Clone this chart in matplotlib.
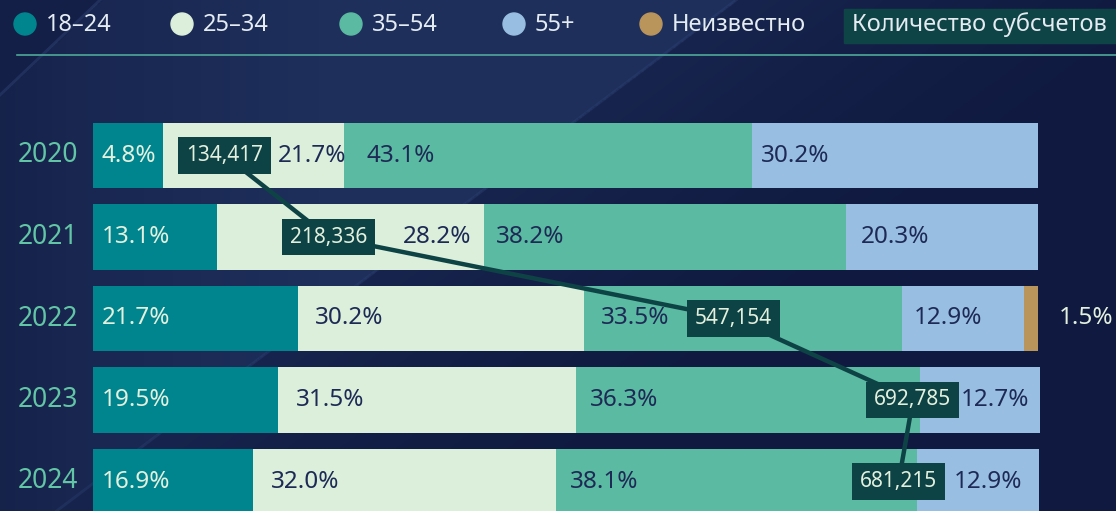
import matplotlib.pyplot as plt
import numpy as np
from matplotlib.colors import LinearSegmentedColormap
from matplotlib.patches import Circle, Rectangle

plt.rcParams["font.family"] = ["Noto Sans", "DejaVu Sans"]

# данные
years = ["2020", "2021", "2022", "2023", "2024"]
groups = ["18–24", "25–34", "35–54", "55+", "Неизвестно"]
share_18_24 = [7.4, 13.1, 21.7, 19.5, 16.9]
share_25_34 = [19.1, 28.2, 30.2, 31.5, 32.0]
share_35_54 = [43.1, 38.2, 33.5, 36.3, 38.1]
share_55 = [30.2, 20.3, 12.9, 12.7, 12.9]
share_unknown = [0.0, 0.0, 1.5, 0.0, 0.0]
# подписи как на исходной картинке
pct_labels = [
    ["4.8%", "21.7%", "43.1%", "30.2%", ""],
    ["13.1%", "28.2%", "38.2%", "20.3%", ""],
    ["21.7%", "30.2%", "33.5%", "12.9%", "1.5%"],
    ["19.5%", "31.5%", "36.3%", "12.7%", ""],
    ["16.9%", "32.0%", "38.1%", "12.9%", ""],
]
subaccounts = [134417, 218336, 547154, 692785, 681215]

colors = ["#00858f", "#dcefdb", "#5bbaa2", "#98bfe2", "#b9955c"]
text_dark = "#1e2a55"
text_light = "#e3f0de"
box_color = "#0e4346"

W, H = 1116, 511
fig = plt.figure(figsize=(W / 100, H / 100), dpi=100)

# фон: светлее слева от диагонали, темнее справа
bg = fig.add_axes([0, 0, 1, 1])
xx, yy = np.meshgrid(np.linspace(0, W, 560), np.linspace(0, H, 256))
x_line = 663 - 1.33 * (yy - 55)
dist = xx - x_line
left_side = np.interp(xx, [0, 60, 320], [0.3, 0.45, 0.78])
right_side = np.interp(dist, [0, 150, 450], [0.38, 0.22, 0.02])
shade = np.where(dist < 0, left_side, right_side)
corner = (xx + yy * 1.05) < 100
shade = np.where(corner, 0.2, shade)
cmap_bg = LinearSegmentedColormap.from_list("bg", ["#101a40", "#223563"])
bg.imshow(shade, cmap=cmap_bg, vmin=0, vmax=1, aspect="auto", extent=[0, W, H, 0])
bg.plot([0, 100], [95, 0], color="#3a5288", lw=2, alpha=0.35)
ys = np.array([0, H])
bg.plot(663 - 1.33 * (ys - 55), ys, color="#33497e", lw=2, alpha=0.3)
bg.set_xlim(0, W)
bg.set_ylim(H, 0)
bg.axis("off")

# легенда
legend_x = [25, 182, 351, 514, 651]
for gx, name, col in zip(legend_x, groups, colors):
    bg.add_patch(Circle((gx, 24), 11, color=col))
    bg.text(gx + 21, 25, name, color="#e4ecf2", fontsize=17, va="center", ha="left")
bg.add_patch(Rectangle((844, 9), 280, 34, color="#0f4447"))
bg.text(852, 25, "Количество субсчетов", color="#e4ecf2", fontsize=17, va="center", ha="left")
bg.plot([17, W], [55, 55], color="#4fa89a", lw=1.2)

# основная область
top_px = 155.5 - 0.5 * 81.5
ax = fig.add_axes([93 / W, 0, 947 / W, (H - top_px) / H])
ax.set_xlim(0, 100)
ax.set_ylim((H - 155.5) / 81.5, -0.5)
ax.axis("off")

series = [share_18_24, share_25_34, share_35_54, share_55, share_unknown]
y = np.arange(len(years))
left = np.zeros(len(years))
starts = []
for vals, col in zip(series, colors):
    ax.barh(y, vals, left=left, height=0.8, color=col, linewidth=0)
    starts.append(left.copy())
    left = left + np.array(vals)

for i, yr in enumerate(years):
    ax.annotate(yr, (0, i), xytext=(-75, 0), textcoords="offset pixels",
                color="#62c6a6", fontsize=19, va="center", ha="left")

# сдвиги подписей (пиксели от начала сегмента)
nudge = {(0, 1): 115, (0, 2): 23, (1, 1): 186, (1, 2): 12, (1, 3): 15,
         (2, 1): 16, (2, 2): 16, (2, 3): 12, (2, 4): 35,
         (3, 1): 18, (3, 2): 14, (3, 3): 41,
         (4, 1): 18, (4, 2): 14, (4, 3): 37}
for i in range(len(years)):
    for s in range(len(series)):
        lab = pct_labels[i][s]
        if not lab:
            continue
        off = nudge.get((i, s), 9)
        col = text_light if s == 0 or s == 4 else text_dark
        ax.annotate(lab, (starts[s][i], i), xytext=(off, 0), textcoords="offset pixels",
                    color=col, fontsize=17.5, va="center", ha="left")

# линия количества субсчетов
ax2 = ax.twiny()
ax2.set_xlim(27400, 795900)
ax2.axis("off")
ax2.plot(subaccounts, y, color=box_color, lw=3.2, zorder=3)
for i, n in enumerate(subaccounts):
    ax2.text(n, i, f"{n:,}", color=text_light, fontsize=15, ha="center", va="center",
             zorder=4, bbox=dict(boxstyle="square,pad=0.38", fc=box_color, ec="none"))

fig.savefig("out.png", dpi=100)
